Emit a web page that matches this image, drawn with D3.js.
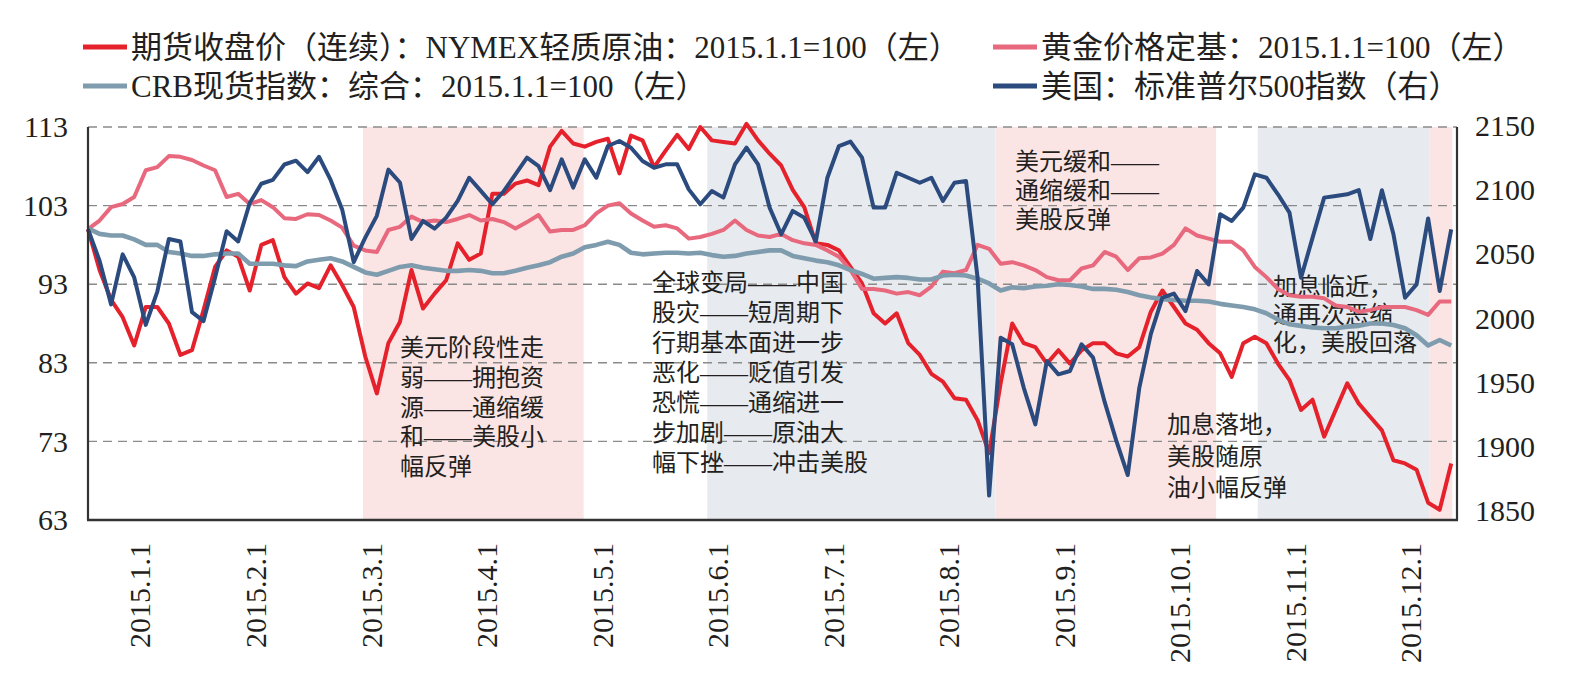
<!DOCTYPE html>
<html>
<head>
<meta charset="utf-8">
<script src="https://cdn.jsdelivr.net/npm/d3@7"></script>
<style>
  body { margin: 0; background: #fff; }
  svg text { font-family: "Liberation Serif", "Noto Sans CJK SC", serif; fill: #231f20; }
</style>
</head>
<body>
<div id="chart"></div>
<script>
const width = 1572;
const height = 689;
const margin = { top: 127, right: 115, bottom: 169, left: 88 };

// trading-day index, one value every 2 days
const step = 2;
const lastDay = 237;

const xLabels = ["2015.1.1", "2015.2.1", "2015.3.1", "2015.4.1", "2015.5.1", "2015.6.1",
  "2015.7.1", "2015.8.1", "2015.9.1", "2015.10.1", "2015.11.1", "2015.12.1"];
const xLabelDays = [9, 29, 49, 69, 89, 109, 129, 149, 169, 189, 209, 229];

const leftTicks = [63, 73, 83, 93, 103, 113];
const rightTicks = [1850, 1900, 1950, 2000, 2050, 2100, 2150];

const seriesNames = [
  "期货收盘价（连续）：NYMEX轻质原油：2015.1.1=100（左）",
  "黄金价格定基：2015.1.1=100（左）",
  "CRB现货指数：综合：2015.1.1=100（左）",
  "美国：标准普尔500指数（右）"
];

const oil = [100, 94.8, 91, 88.8, 85.2, 90.1, 90.1, 88, 84, 84.6,
  89.7, 95.2, 97.3, 96.5, 92.2, 98, 98.6, 93.9, 91.8, 93.1,
  92.5, 95.4, 92.9, 90.1, 83.8, 79.1, 85.5, 88.2, 94.8, 89.9,
  91.8, 93.5, 98.2, 96.1, 96.9, 104.5, 104.5, 105.8, 106.2, 105.6,
  110.5, 112.5, 110.9, 110.5, 111.1, 111.5, 107.1, 111.9, 111.3, 107.9,
  110, 112, 110.2, 113, 111.3, 111.1, 110.9, 113.4, 111.3, 109.6,
  108.1, 105, 102.8, 98.2, 98, 97.3, 95.2, 93.1, 89.3, 88,
  89.3, 85.5, 84, 81.6, 80.6, 78.5, 78.3, 75.7, 71.5, 80.4,
  88, 85.5, 85, 82.9, 84.6, 82.9, 84.6, 85.5, 85.5, 84.2,
  83.8, 85, 89.5, 92.2, 90.1, 88, 87.2, 85.5, 84.2, 81.2,
  85.5, 86.3, 85.5, 82.9, 80.8, 77, 78.3, 73.6, 77, 80.4,
  77.8, 76.1, 74.4, 70.6, 70.2, 69.4, 65.2, 64.3, 70.2];

const gold = [100, 101.1, 102.8, 103.2, 104.1, 107.5, 107.9, 109.3, 109.2, 108.8,
  108.1, 107.5, 104.1, 104.5, 103.2, 103.7, 102.8, 101.4, 101.3, 101.9,
  101.8, 101.1, 100.2, 97.9, 97.3, 97.1, 99.9, 100.3, 101.6, 100.9,
  101.1, 100.9, 101.3, 101.8, 101.1, 101.3, 100.9, 100.1, 100.9, 101.8,
  99.7, 99.9, 99.9, 100.5, 102, 103, 103.3, 102, 101.1, 100.3,
  100.5, 100.1, 98.8, 99, 99.4, 99.9, 101.1, 99.9, 99.2, 99,
  99.4, 98.6, 98.2, 98, 97.3, 96.5, 94.8, 92.4, 92.4, 92.2,
  91.8, 92, 91.6, 92.7, 94.6, 94.4, 94.8, 98, 97.5, 95.6,
  95.8, 95.4, 94.8, 93.9, 93.5, 93.5, 95, 95.4, 97.1, 96.5,
  94.8, 96.3, 96.4, 96.9, 98, 100.1, 99.2, 98.8, 98.4, 98.4,
  97.3, 95.2, 93.9, 92.4, 91.6, 91.4, 91.4, 91.2, 90.3, 90.1,
  89.5, 89.7, 90.1, 90.1, 90.1, 89.7, 89.1, 90.8, 90.8];

const crb = [100.1, 99.4, 99.2, 99.2, 98.7, 98, 98, 97.1, 96.9, 96.6,
  96.6, 96.8, 96.9, 96.9, 95.6, 95.6, 95.6, 95.4, 95.3, 95.9,
  96.1, 96.3, 95.9, 95.2, 94.5, 94.2, 94.7, 95.2, 95.4, 95.1,
  94.9, 94.7, 94.7, 94.8, 94.7, 94.4, 94.4, 94.7, 95.1, 95.4,
  95.8, 96.5, 96.9, 97.7, 98, 98.4, 98, 97, 96.8, 96.9,
  97, 97, 96.9, 97, 96.7, 96.5, 96.6, 96.9, 97.1, 97.3,
  97.3, 96.6, 96.3, 96, 95.8, 95.4, 94.8, 94.3, 93.7, 93.8,
  93.9, 93.8, 93.6, 93.6, 94.1, 94.2, 94.1, 93.7, 93.1, 92.2,
  92.6, 92.5, 92.7, 92.8, 93, 92.9, 92.7, 92.4, 92.4, 92.3,
  92, 91.6, 91.3, 91.1, 91, 90.9, 90.9, 90.8, 90.5, 90.3,
  90.1, 89.8, 89.3, 88.5, 87.9, 87.7, 87.5, 87.4, 87.4, 87.6,
  87.7, 88, 88, 87.8, 87.4, 86.5, 85.2, 85.9, 85.2];

const spx = [2069.5, 2045, 2011, 2050, 2032, 1995, 2021, 2062, 2060, 2005,
  1998, 2032, 2068, 2060, 2090, 2105, 2108, 2120, 2123, 2114,
  2126, 2108, 2085, 2044, 2063, 2080, 2116, 2106, 2062, 2076,
  2070, 2078.6, 2091.6, 2109.7, 2099.4, 2089, 2099.4, 2112.3, 2125.3, 2118.8,
  2100, 2124, 2102, 2124, 2109.7, 2134.4, 2138.3, 2133.1, 2122.7, 2117.5,
  2120.1, 2120.1, 2100.6, 2089, 2099.4, 2094.2, 2120.1, 2133.1, 2120.1, 2086.4,
  2065.6, 2083.8, 2078.6, 2060, 2109.7, 2134.4, 2137.8, 2125.3, 2086.4, 2086.4,
  2113.6, 2109.7, 2105.8, 2109.7, 2091.6, 2105.8, 2107.1, 2032, 1862, 1985,
  1979.9, 1946, 1917.5, 1966.9, 1956.5, 1959.1, 1979.9, 1969.5, 1935, 1905,
  1878, 1946, 1988, 2016.2, 2019.4, 2005.8, 2037, 2026.6, 2081.2, 2076,
  2086.4, 2112.3, 2109.7, 2096.8, 2082.5, 2031.8, 2063, 2094.2, 2095.5, 2096.8,
  2100, 2062, 2100, 2065.6, 2016.2, 2026.6, 2078, 2021.4, 2069.5];

// shaded periods, in trading days
const bands = [
  { start: 47.6, end: 85.8, kind: "pink" },
  { start: 107.2, end: 157.1, kind: "gray" },
  { start: 157.1, end: 195.3, kind: "pink" },
  { start: 202.5, end: 232.2, kind: "gray" },
  { start: 232.2, end: 236.2, kind: "pink" }
];

const notes = [
  ["美元阶段性走", "弱——拥抱资", "源——通缩缓", "和——美股小", "幅反弹"],
  ["全球变局——中国", "股灾——短周期下", "行期基本面进一步", "恶化——贬值引发", "恐慌——通缩进一", "步加剧——原油大", "幅下挫——冲击美股"],
  ["美元缓和——", "通缩缓和——", "美股反弹"],
  ["加息临近，", "通再次恶缩", "化，美股回落"],
  ["加息落地，", "美股随原", "油小幅反弹"]
];

const colors = ["#e5222c", "#e8697d", "#7e9cad", "#2b4b7e"];
const bandFill = { pink: "#fbe4e4", gray: "#e7eaee" };

const svg = d3.select("#chart")
  .append("svg")
  .attr("width", width)
  .attr("height", height)
  .style("background", "#fff");

const x = d3.scaleLinear()
  .domain([0, lastDay])
  .range([margin.left, width - margin.right]);

const yL = d3.scaleLinear()
  .domain([63, 113])
  .range([height - margin.bottom, margin.top]);

const yR = d3.scaleLinear()
  .domain([1850, 2150])
  .range([511, 126]);

// shaded periods
svg.append("g")
  .selectAll("rect")
  .data(bands)
  .join("rect")
  .attr("x", d => x(d.start))
  .attr("y", margin.top)
  .attr("width", d => x(d.end) - x(d.start))
  .attr("height", height - margin.bottom - margin.top)
  .attr("fill", d => bandFill[d.kind]);

// dashed grid
svg.append("g")
  .selectAll("line")
  .data(leftTicks.slice(1))
  .join("line")
  .attr("x1", margin.left)
  .attr("x2", width - margin.right)
  .attr("y1", d => yL(d))
  .attr("y2", d => yL(d))
  .attr("stroke", "#8a8a8a")
  .attr("stroke-width", 1.4)
  .attr("stroke-dasharray", "9,6");

// notes (drawn under the lines)
const notePos = [
  { x: 400, y: 348, lh: 29.8 },
  { x: 652, y: 283, lh: 30 },
  { x: 1015, y: 162, lh: 29 },
  { x: 1273, y: 287, lh: 28 },
  { x: 1167, y: 425, lh: 31.5 }
];

notes.forEach((lines, k) => {
  const t = svg.append("text")
    .attr("font-size", 24)
    .attr("dominant-baseline", "central");
  t.selectAll("tspan")
    .data(lines)
    .join("tspan")
    .attr("x", notePos[k].x)
    .attr("y", (d, i) => notePos[k].y + i * notePos[k].lh)
    .text(d => d);
});

// series
const lineL = d3.line()
  .x((d, i) => x(i * step))
  .y(d => yL(d));

const lineR = d3.line()
  .x((d, i) => x(i * step))
  .y(d => yR(d));

[oil, gold, crb].forEach((s, k) => {
  svg.append("path")
    .datum(s)
    .attr("d", lineL)
    .attr("fill", "none")
    .attr("stroke", colors[k])
    .attr("stroke-width", k === 2 ? 4.6 : 4)
    .attr("stroke-linejoin", "round");
});

svg.append("path")
  .datum(spx)
  .attr("d", lineR)
  .attr("fill", "none")
  .attr("stroke", colors[3])
  .attr("stroke-width", 4)
  .attr("stroke-linejoin", "round");

// axes frame
const frame = svg.append("g")
  .attr("stroke", "#333")
  .attr("stroke-width", 2.2);

frame.append("line")
  .attr("x1", margin.left).attr("x2", margin.left)
  .attr("y1", margin.top).attr("y2", height - margin.bottom);

frame.append("line")
  .attr("x1", width - margin.right).attr("x2", width - margin.right)
  .attr("y1", margin.top).attr("y2", height - margin.bottom);

frame.append("line")
  .attr("x1", margin.left - 1).attr("x2", width - margin.right + 1)
  .attr("y1", height - margin.bottom).attr("y2", height - margin.bottom)
  .attr("stroke-width", 2.6);

// tick labels
const leftAxis = svg.append("g")
  .attr("transform", `translate(${margin.left},0)`)
  .call(d3.axisLeft(yL).tickValues(leftTicks).tickSize(0).tickPadding(20));

const rightAxis = svg.append("g")
  .attr("transform", `translate(${width - margin.right},0)`)
  .call(d3.axisRight(yR).tickValues(rightTicks).tickFormat(d3.format("d")).tickSize(0).tickPadding(18));

[leftAxis, rightAxis].forEach(g => {
  g.select(".domain").remove();
  g.attr("font-family", "Liberation Serif");
  g.selectAll("text")
    .attr("font-size", 30)
    .style("font-family", "'Liberation Serif', serif")
    .attr("fill", "#231f20");
});

svg.append("g")
  .selectAll("text")
  .data(xLabels)
  .join("text")
  .attr("transform", (d, i) => `translate(${x(xLabelDays[i])},543) rotate(-90)`)
  .attr("text-anchor", "end")
  .attr("dominant-baseline", "central")
  .attr("font-size", 30)
  .style("font-family", "'Liberation Serif', serif")
  .text(d => d);

// legend
const legendPos = [
  { x: 83, y: 47 },
  { x: 993, y: 47 },
  { x: 83, y: 86 },
  { x: 993, y: 86 }
];

const legend = svg.append("g")
  .selectAll("g")
  .data(seriesNames)
  .join("g")
  .attr("transform", (d, i) => `translate(${legendPos[i].x},${legendPos[i].y})`);

legend.append("line")
  .attr("x1", 0)
  .attr("x2", 44)
  .attr("stroke", (d, i) => colors[i])
  .attr("stroke-width", 5);

legend.append("text")
  .attr("x", 48)
  .attr("dominant-baseline", "central")
  .attr("font-size", 31)
  .text(d => d);
</script>
</body>
</html>
